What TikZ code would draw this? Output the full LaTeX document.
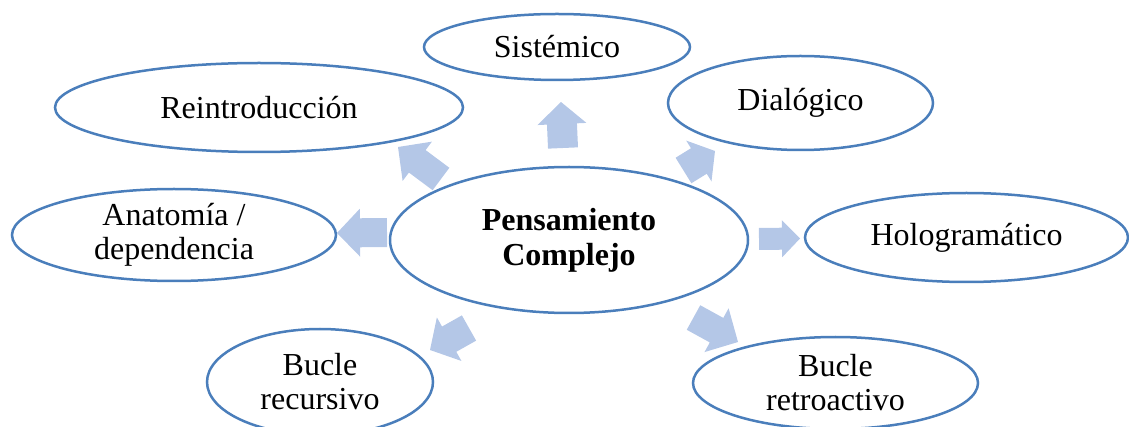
\documentclass[tikz,border=0pt]{standalone}
\usepackage{fontspec}
\setmainfont{Liberation Serif}
\usetikzlibrary{shapes.geometric,calc}
\definecolor{ellblue}{RGB}{74,126,187}
\definecolor{arrfill}{RGB}{180,199,231}
\tikzset{
  ell/.style={ellipse, draw=ellblue, line width=2.5pt, fill=white, inner sep=0pt,
    align=center, font=\fontsize{32}{34}\selectfont},
  arrowfill/.style={fill=arrfill},
}
\newcommand\blockarrow[5]{% tail, tip, half shaft, half head, head length
  \coordinate (#1-base) at ($(#2)!#5!(#1)$);
  \fill[arrowfill] ($(#1)!#3!90:(#2)$) -- ($(#1-base)!#3!90:(#2)$)
    -- ($(#1-base)!#4!90:(#2)$) -- (#2) -- ($(#1-base)!#4!-90:(#2)$)
    -- ($(#1-base)!#3!-90:(#2)$) -- ($(#1)!#3!-90:(#2)$) -- cycle;
}
\begin{document}
\begin{tikzpicture}[x=1pt,y=-1pt]
\useasboundingbox (0,0) rectangle (1129,427);
% arrow end points
\coordinate (sisT) at (563,148);   \coordinate (sisP) at (561,102);
\coordinate (reiT) at (441,179);   \coordinate (reiP) at (398,147);
\coordinate (diaT) at (683.5,170.5); \coordinate (diaP) at (715,151);
\coordinate (anaT) at (387,232.5); \coordinate (anaP) at (337,233);
\coordinate (holT) at (759,239);   \coordinate (holP) at (800,238.5);
\coordinate (recT) at (469,328);   \coordinate (recP) at (430,350);
\coordinate (retT) at (693.5,317.5); \coordinate (retP) at (738,342);
\blockarrow{sisT}{sisP}{15pt}{24.5pt}{22pt}
\blockarrow{reiT}{reiP}{14pt}{24.5pt}{24pt}
\blockarrow{diaT}{diaP}{15pt}{24pt}{19pt}
\blockarrow{anaT}{anaP}{14.5pt}{24pt}{23pt}
\blockarrow{holT}{holP}{11pt}{18.5pt}{18pt}
\blockarrow{recT}{recP}{14.5pt}{25pt}{22pt}
\blockarrow{retT}{retP}{14pt}{25pt}{24.5pt}
% ellipses
\node[ell, minimum width=266pt, minimum height=66pt] (sis) at (557,47) {Sistémico};
\node[ell, minimum width=408pt, minimum height=89pt] (rei) at (259,107.5) {Reintroducción};
\node[ell, minimum width=265pt, minimum height=94pt] (dia) at (800.5,103) {Dialógico};
\node[ell, minimum width=324pt, minimum height=92pt] (ana) at (174,235) {Anatomía /\\dependencia};
\node[ell, minimum width=323pt, minimum height=89pt] (hol) at (966.5,237.5) {Hologramático};
\node[ell, minimum width=226pt, minimum height=106pt] (rec) at (320,382) {Bucle\\recursivo};
\node[ell, minimum width=285pt, minimum height=92pt] (ret) at (835.5,383) {Bucle\\retroactivo};
\node[ell, minimum width=358pt, minimum height=146pt, font=\fontsize{32}{35}\selectfont\bfseries] (cen) at (569,240) {Pensamiento\\Complejo};
\end{tikzpicture}
\end{document}
